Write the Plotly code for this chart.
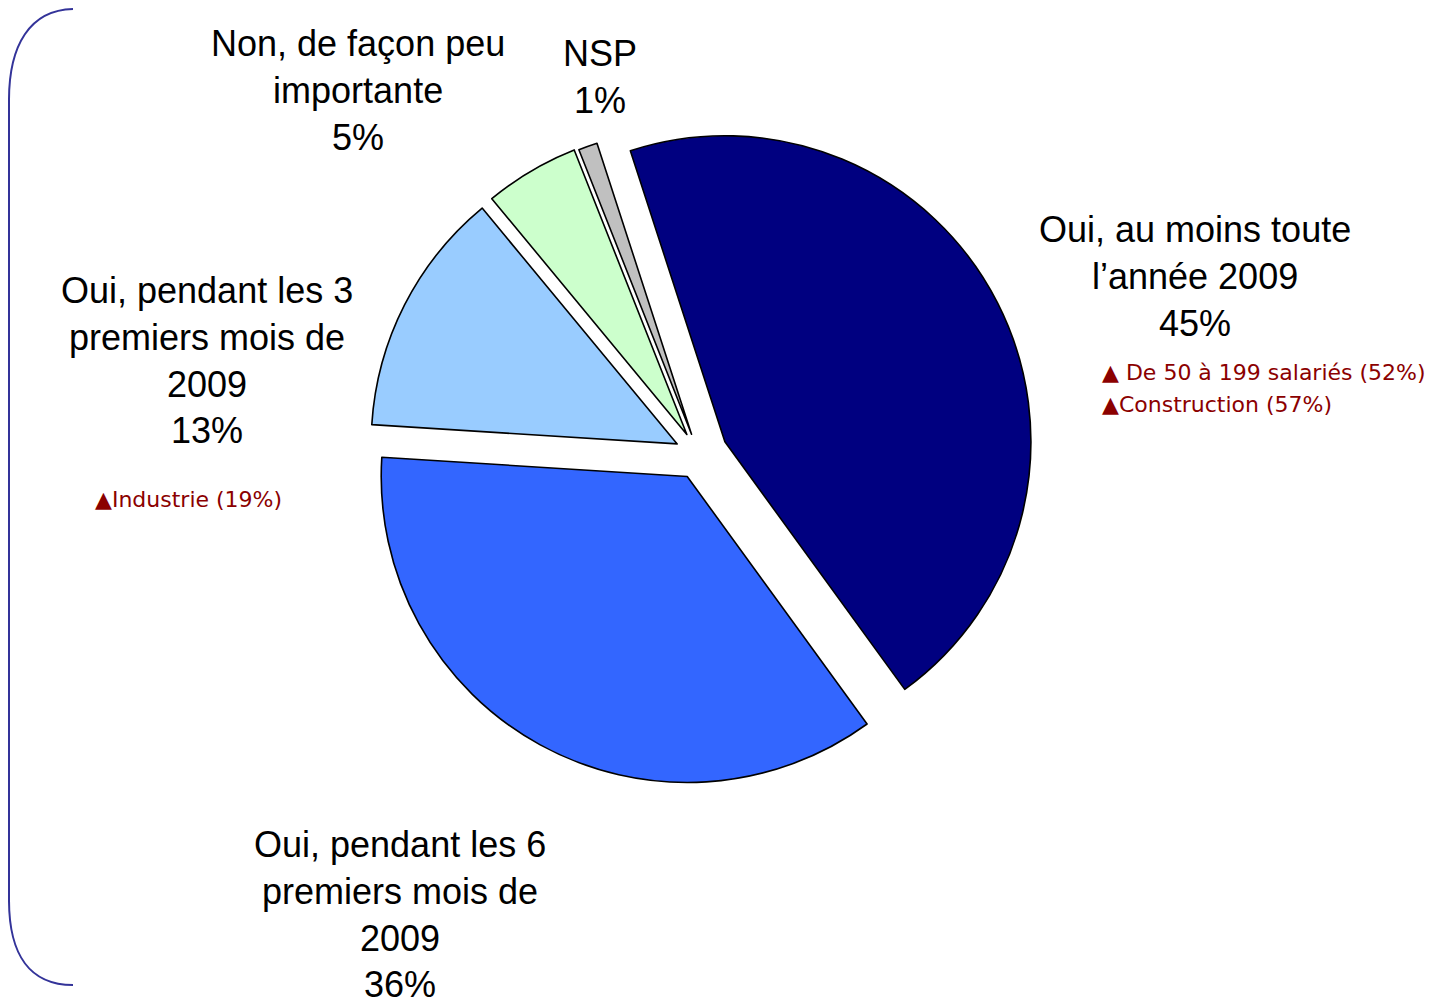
import plotly.graph_objects as go

W, H = 1444, 1004
OFF = 8  # page body margin

categories = ["Oui, au moins toute l’année 2009", "Oui, pendant les 6 premiers mois de 2009",
              "Oui, pendant les 3 premiers mois de 2009", "Non, de façon peu importante", "NSP"]
values = [45, 36, 13, 5, 1]
colors = ["#000080", "#3366FF", "#99CCFF", "#CCFFCC", "#C0C0C0"]
pulls = [0.095, 0.08, 0.08, 0.078, 0.072]

label_texts = [
    "Oui, au moins toute<br>l’année 2009<br>45%",
    "Oui, pendant les 6<br>premiers mois de<br>2009<br>36%",
    "Oui, pendant les 3<br>premiers mois de<br>2009<br>13%",
    "Non, de façon peu<br>importante<br>5%",
    "NSP<br>1%",
]
label_pos = [(1195, 276), (400, 914), (207, 360), (358, 90), (600, 77)]

notes = ["▲ De 50 à 199 salariés (52%)", "▲Construction (57%)", "▲Industrie (19%)"]
note_pos = [(1100, 372), (1100, 404), (93, 499)]


def fx(x):
    return (x - OFF) / W


def fy(y):
    return 1 - (y - OFF) / H


cx, cy, r = 699, 455, 306
half = r * (1 + max(pulls))

fig = go.Figure(go.Pie(
    labels=categories, values=values, sort=False, direction="clockwise",
    rotation=-18, pull=pulls, textinfo="none", hoverinfo="label+percent",
    marker=dict(colors=colors, line=dict(color="black", width=1.6)),
    domain=dict(x=[fx(cx - half), fx(cx + half)],
                y=[fy(cy + half), fy(cy - half)]),
    showlegend=False,
))

annotations = []
for t, (x, y) in zip(label_texts, label_pos):
    annotations.append(dict(text=t, x=fx(x), y=fy(y), xref="paper", yref="paper",
                            xanchor="center", yanchor="middle", align="center", showarrow=False,
                            font=dict(family="Liberation Sans, Arial", size=36, color="black")))
for t, (x, y) in zip(notes, note_pos):
    annotations.append(dict(text=t, x=fx(x), y=fy(y), xref="paper", yref="paper",
                            xanchor="left", yanchor="middle", align="left", showarrow=False,
                            font=dict(family="DejaVu Sans", size=22, color="#8B0000")))


def px(x, y):
    return f"{fx(x):.5f},{fy(y):.5f}"


path = (f"M {px(73, 9)} C {px(30, 10)} {px(9, 45)} {px(9, 100)} "
        f"L {px(9, 900)} C {px(9, 955)} {px(30, 985)} {px(73, 985)}")

fig.update_layout(
    width=W, height=H, margin=dict(l=0, r=0, t=0, b=0),
    paper_bgcolor="white", plot_bgcolor="white",
    annotations=annotations,
    shapes=[dict(type="path", path=path, xref="paper", yref="paper",
                 line=dict(color="#333399", width=2))],
)

fig.write_html("out.html")
